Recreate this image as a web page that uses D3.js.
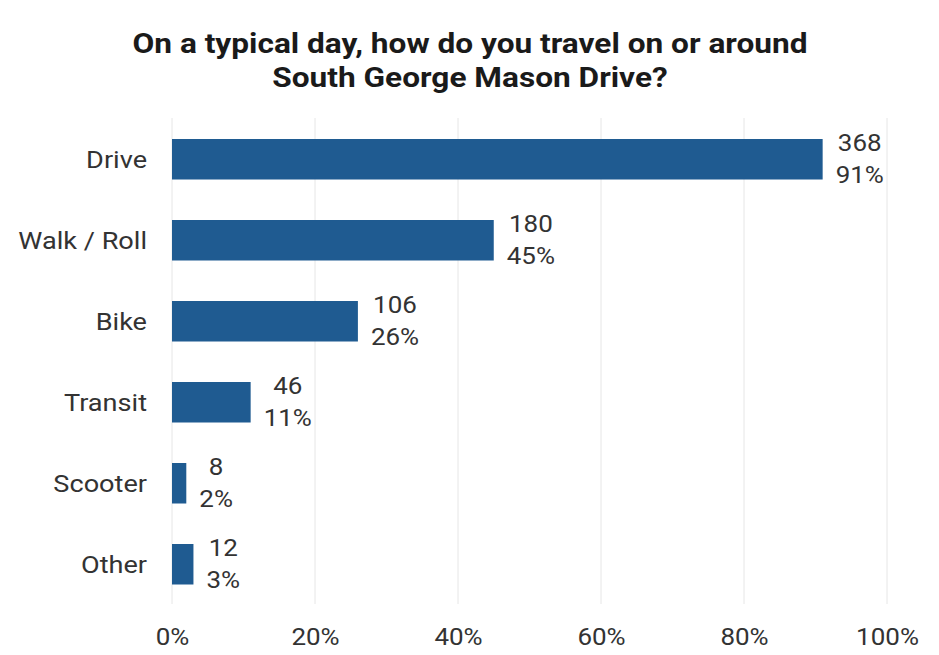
<!DOCTYPE html>
<html>
<head>
<meta charset="utf-8">
<script src="https://cdn.jsdelivr.net/npm/d3@7"></script>
<style>
  body { margin: 0; background: #fff; }
  svg { font-family: Roboto, "Noto Sans", sans-serif; }
</style>
</head>
<body>
<div id="chart"></div>
<script>
'use strict';

/**** Travel mode bar chart ****/

var categories = ['Drive', 'Walk / Roll', 'Bike', 'Transit', 'Scooter', 'Other'];
var counts = [368, 180, 106, 46, 8, 12];
var percents = [91, 45, 26, 11, 2, 3];
var tickValues = [0, 20, 40, 60, 80, 100];
var titleLines = ['On a typical day, how do you travel on or around', 'South George Mason Drive?'];

var width = 939, height = 655;
var stretch = 1.13; //the source picture is a bit wide, so text is stretched to match

var rows = categories.map(function(c, i) {
    return { name: c, count: counts[i], pct: percents[i] };
});

var svg = d3.select('#chart').append('svg')
    .attr('width', width)
    .attr('height', height);

var x = d3.scaleLinear().domain([0, 100]).range([172, 887]);
var y = d3.scaleBand().domain(categories)
    .range([118.75, 604.75])
    .paddingInner(0.5)
    .paddingOuter(0.25);

//Place a text at (px, py) with the horizontal stretch
var place = function(sel, px, py) {
    sel.attr('transform', function(d, i) {
        var tx = typeof px === 'function' ? px(d, i) : px;
        var ty = typeof py === 'function' ? py(d, i) : py;
        return 'translate(' + tx + ',' + ty + ') scale(' + stretch + ',1)';
    });
};

//Title
var title = svg.append('g').selectAll('text')
    .data(titleLines)
    .enter().append('text')
    .attr('text-anchor', 'middle')
    .attr('font-size', 28)
    .attr('font-weight', 700)
    .attr('fill', '#1a1a1a')
    .text(function(d) { return d; });
place(title, 470, function(d, i) { return 53 + i * 34; });

//Gridlines
svg.append('g').selectAll('line')
    .data(tickValues)
    .enter().append('line')
    .attr('x1', x).attr('x2', x)
    .attr('y1', 118).attr('y2', 604)
    .attr('stroke', '#e6e6e6')
    .attr('stroke-width', 1);

//X axis labels
var xAxis = d3.axisBottom(x)
    .tickValues(tickValues)
    .tickSize(0)
    .tickPadding(0)
    .tickFormat(function(d) { return d + '%'; });
var xg = svg.append('g').attr('transform', 'translate(0,628)').call(xAxis);
xg.select('.domain').remove();
var tickText = xg.selectAll('text')
    .attr('y', null)
    .attr('dy', null)
    .attr('font-family', 'Roboto, sans-serif')
    .attr('font-size', 23)
    .attr('fill', '#333');
place(tickText, 0, 17);

//Category labels
var catText = svg.append('g').selectAll('text')
    .data(rows)
    .enter().append('text')
    .attr('dy', '0.35em')
    .attr('text-anchor', 'end')
    .attr('font-size', 24)
    .attr('fill', '#333')
    .text(function(d) { return d.name; });
place(catText, 147, function(d) { return y(d.name) + y.bandwidth() / 2; });

//Bars
svg.append('g').selectAll('rect')
    .data(rows)
    .enter().append('rect')
    .attr('x', x(0))
    .attr('y', function(d) { return y(d.name); })
    .attr('width', function(d) { return x(d.pct) - x(0); })
    .attr('height', y.bandwidth())
    .attr('fill', '#1f5b91');

//Value labels (count over percent, centred on the wider line)
svg.append('g').selectAll('g')
    .data(rows)
    .enter().append('g')
    .each(function(d) {
        var g = d3.select(this);
        var cy = y(d.name) + y.bandwidth() / 2;
        var lines = [String(d.count), d.pct + '%'];
        var texts = g.selectAll('text').data(lines).enter().append('text')
            .attr('dy', '0.35em')
            .attr('text-anchor', 'middle')
            .attr('font-size', 23)
            .attr('fill', '#333')
            .text(function(t) { return t; });
        var w = 0;
        texts.each(function() { w = Math.max(w, this.getComputedTextLength() * stretch); });
        place(texts, x(d.pct) + 13 + w / 2, function(t, i) { return cy + (i === 0 ? -16 : 16); });
    });
</script>
</body>
</html>
